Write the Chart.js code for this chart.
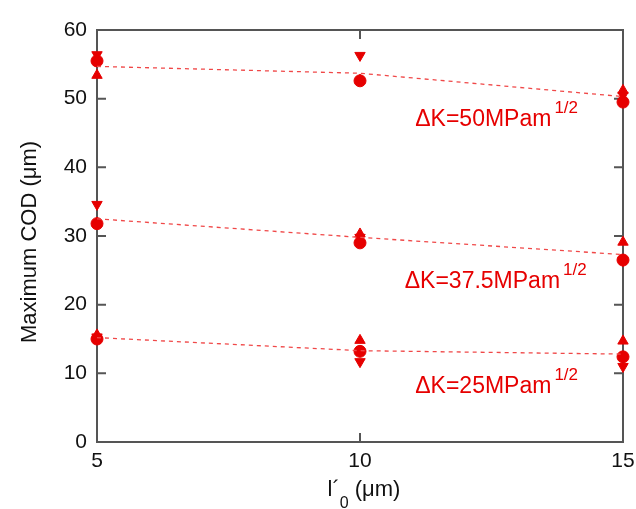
<!DOCTYPE html>
<html>
<head>
<meta charset="utf-8">
<script src="https://cdn.jsdelivr.net/npm/chart.js@4/dist/chart.umd.min.js"></script>
<style>
  body { margin: 0; background: #fff; }
  #wrap { width: 636px; height: 509px; }
</style>
</head>
<body>
<div id="wrap"><canvas id="codChart" width="636" height="509"></canvas></div>
<script>
// x positions (l'0, um)
var xValues = [5, 10, 15];
var xTicks = [5, 10, 15];
var yTicks = [0, 10, 20, 30, 40, 50, 60];

// dashed trend lines
var fit50 = [54.7, 53.7, 50.3];
var fit375 = [32.5, 29.8, 27.3];
var fit25 = [15.2, 13.3, 12.8];

// markers, dK = 50
var circle50 = [55.5, 52.6, 49.5];
var up50 = [53.4, 52.7, 51.2];
var down50 = [56.4, 56.3, 50.5];
// dK = 37.5
var circle375 = [31.8, 29.0, 26.5];
var up375 = [31.9, 30.3, 29.1];
var down375 = [34.6, 29.8, 26.4];
// dK = 25
var circle25 = [15.0, 13.2, 12.4];
var up25 = [15.6, 14.8, 14.7];
var down25 = [15.3, 11.7, 11.0];

// annotation labels
var labelText = ['\u0394K=50MPam', '\u0394K=37.5MPam', '\u0394K=25MPam'];
var labelX = [11.05, 10.85, 11.05];
var labelY = [46.0, 22.5, 7.2];

var red = '#e60000';
var lineRed = '#f04848';
var font = '"Liberation Sans", Arial, sans-serif';

function pts(ys) {
    return ys.map(function (y, i) { return { x: xValues[i], y: y }; });
}

function lineSet(ys) {
    return {
        type: 'line', data: pts(ys), borderColor: lineRed, borderWidth: 1.3,
        borderDash: [4, 4], pointRadius: 0, fill: false, tension: 0, clip: false
    };
}

function markerSet(ys, style, rot) {
    return {
        type: 'scatter', data: pts(ys), pointStyle: style, rotation: rot, clip: false,
        pointRadius: 6, backgroundColor: red, borderColor: red, borderWidth: 1
    };
}

var datasets = [
    lineSet(fit50), lineSet(fit375), lineSet(fit25),
    markerSet(up50, 'triangle', 0), markerSet(down50, 'triangle', 180), markerSet(circle50, 'circle', 0),
    markerSet(up375, 'triangle', 0), markerSet(down375, 'triangle', 180), markerSet(circle375, 'circle', 0),
    markerSet(up25, 'triangle', 0), markerSet(down25, 'triangle', 180), markerSet(circle25, 'circle', 0)
];

var framePlugin = {
    id: 'frame',
    beforeDatasetsDraw: function (chart) {
        var ctx = chart.ctx, a = chart.chartArea;
        var xs = chart.scales.x, ys = chart.scales.y;
        ctx.save();
        ctx.strokeStyle = '#555';
        ctx.lineWidth = 2;
        ctx.strokeRect(a.left, a.top, a.right - a.left, a.bottom - a.top);
        // inward ticks
        ctx.beginPath();
        yTicks.forEach(function (v) {
            var p = ys.getPixelForValue(v);
            ctx.moveTo(a.left, p); ctx.lineTo(a.left + 9, p);
            ctx.moveTo(a.right, p); ctx.lineTo(a.right - 9, p);
        });
        xTicks.forEach(function (v) {
            var p = xs.getPixelForValue(v);
            ctx.moveTo(p, a.bottom); ctx.lineTo(p, a.bottom - 9);
            ctx.moveTo(p, a.top); ctx.lineTo(p, a.top + 9);
        });
        ctx.stroke();
        ctx.restore();
    },
    afterDatasetsDraw: function (chart) {
        var ctx = chart.ctx, a = chart.chartArea;
        var xs = chart.scales.x, ys = chart.scales.y;
        ctx.save();
        // annotations
        ctx.fillStyle = red;
        ctx.textBaseline = 'alphabetic';
        labelText.forEach(function (t, i) {
            var px = xs.getPixelForValue(labelX[i]);
            var py = ys.getPixelForValue(labelY[i]);
            ctx.font = '23px ' + font;
            ctx.fillText(t, px, py);
            var w = ctx.measureText(t).width;
            ctx.font = '17px ' + font;
            ctx.fillText('1/2', px + w + 3, py - 13);
        });

        // x title: l'0 (um)
        ctx.fillStyle = '#111';
        var cx = (a.left + a.right) / 2;
        var part1 = 'l\u00b4';
        var part3 = ' (\u03bcm)';
        ctx.font = '22px ' + font;
        var w1 = ctx.measureText(part1).width;
        var w3 = ctx.measureText(part3).width;
        ctx.font = '16px ' + font;
        var w2 = ctx.measureText('0').width;
        var start = cx - (w1 + w2 + w3) / 2 + 4;
        var by = 496;
        ctx.font = '22px ' + font;
        ctx.fillText(part1, start, by);
        ctx.font = '16px ' + font;
        ctx.fillText('0', start + w1, by + 12);
        ctx.font = '22px ' + font;
        ctx.fillText(part3, start + w1 + w2, by);

        // y title
        ctx.save();
        ctx.translate(36, 242);
        ctx.rotate(-Math.PI / 2);
        ctx.textAlign = 'center';
        ctx.fillText('Maximum COD (\u03bcm)', 0, 0);
        ctx.restore();
        ctx.restore();
    }
};

new Chart(document.getElementById('codChart'), {
    data: { datasets: datasets },
    options: {
        responsive: false,
        animation: false,
        layout: { padding: { left: 0, right: 0, top: 30, bottom: 0 } },
        plugins: { legend: { display: false }, tooltip: { enabled: false } },
        scales: {
            x: {
                type: 'linear', min: 5, max: 15,
                afterBuildTicks: function (s) { s.ticks = xTicks.map(function (v) { return { value: v }; }); },
                afterFit: function (s) { s.height = 67; s.paddingRight = 13; s.paddingLeft = 0; },
                grid: { display: false, drawTicks: false },
                border: { display: false },
                ticks: { color: '#111', padding: 7, font: { size: 21, family: font } }
            },
            y: {
                type: 'linear', min: 0, max: 60,
                afterBuildTicks: function (s) { s.ticks = yTicks.map(function (v) { return { value: v }; }); },
                afterFit: function (s) { s.width = 97; },
                grid: { display: false, drawTicks: false },
                border: { display: false },
                ticks: { color: '#111', padding: 10, font: { size: 21, family: font } }
            }
        }
    },
    plugins: [framePlugin]
});
</script>
</body>
</html>
